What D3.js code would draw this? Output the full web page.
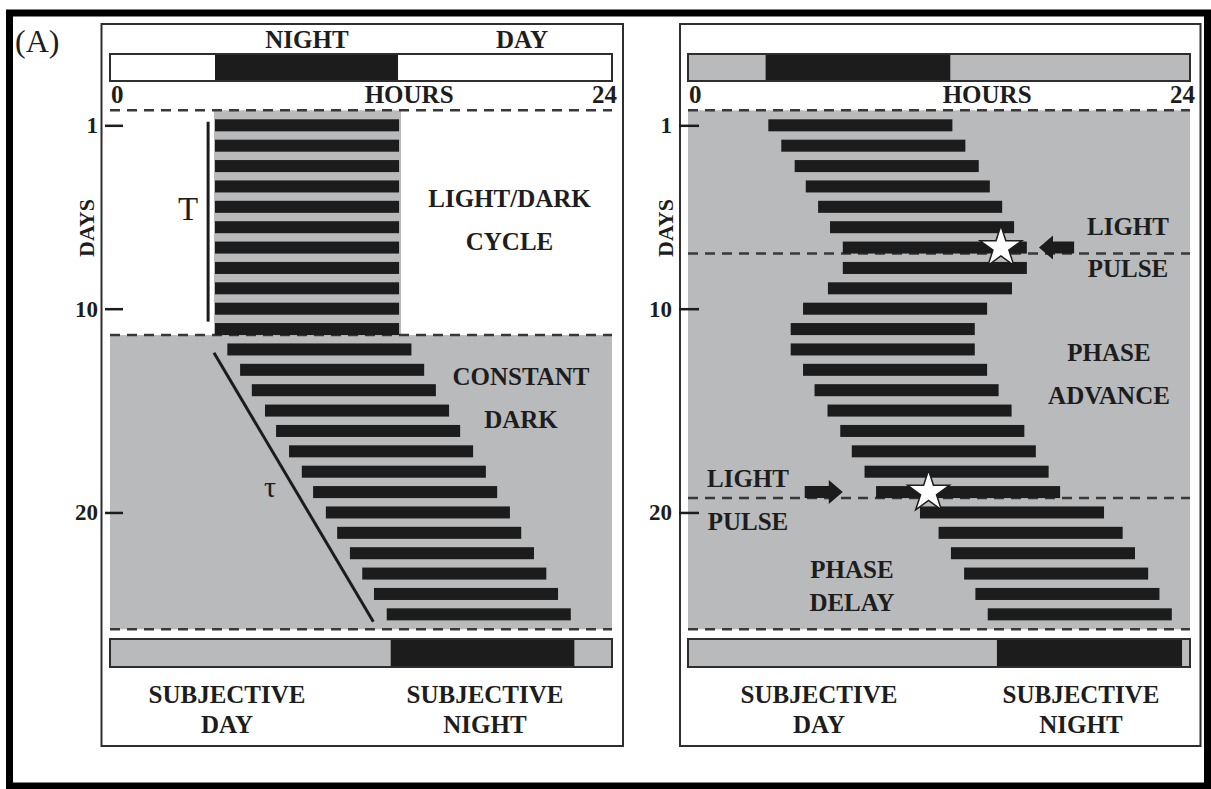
<!DOCTYPE html>
<html>
<head>
<meta charset="utf-8">
<script src="https://cdn.jsdelivr.net/npm/d3@7"></script>
<style>
  html, body { margin: 0; padding: 0; background: #fff; }
  svg { display: block; }
  text { font-family: "Liberation Serif", "DejaVu Serif", serif; fill: #1d1d1d; }
  .b { font-weight: bold; }
</style>
</head>
<body>
<svg id="chart" width="1211" height="789"></svg>
<script>
// ---- data -------------------------------------------------------------
// Activity onset (clock hour) for each day, day 1 at the top.
// Days 1-11: entrained to the light/dark cycle; days 12-25: constant dark.
const leftOnsets = [
  5.02, 5.02, 5.02, 5.02, 5.02, 5.02, 5.02, 5.02, 5.02, 5.02, 5.02,
  5.61, 6.22, 6.78, 7.41, 7.94, 8.56, 9.17, 9.71, 10.32, 10.86, 11.47, 12.06, 12.62, 13.23
];
// Free-running rhythm with two light pulses (advance on day 7, delay on day 19).
const rightOnsets = [
  3.84, 4.46, 5.10, 5.63, 6.22, 6.79, 7.40, 7.40, 6.69, 5.50, 4.91, 4.91, 5.50,
  6.05, 6.67, 7.28, 7.83, 8.44, 8.99, 11.09, 11.98, 12.57, 13.20, 13.74, 14.33
];
const activityLength = 8.8;           // hours of activity per day
const entrainedDays = 11;             // days under the light/dark cycle (left)

// Night / subjective night intervals shown in the header and footer bars (hours)
const leftNight = [5.02, 13.77];
const leftSubjectiveNight = [13.42, 22.20];
const rightNight = [3.71, 12.54];
const rightSubjectiveNight = [14.77, 23.62];

// Light pulses: day index (0-based) and clock hour
const pulses = [
  { day: 6,  hour: 14.96, arrowTip: 16.78, arrowTail: 18.46 },
  { day: 18, hour: 11.50, arrowTip: 7.40,  arrowTail: 5.58 }
];

const dayTicks = [1, 10, 20];
const hourLabels = ["0", "HOURS", "24"];
const hourLabelPos = [0, 14.3, 24];

// ---- layout -----------------------------------------------------------
const svg = d3.select("#chart");
const INK = "#1c1c1c";
const GRAY = "#b9babc";
const LINE = "#2e2e2e";

svg.append("rect").attr("width", 1211).attr("height", 789).attr("fill", "#fff");
// outer heavy frame
svg.append("rect")
  .attr("x", 9.5).attr("y", 13).attr("width", 1198).attr("height", 773)
  .attr("fill", "none").attr("stroke", "#000").attr("stroke-width", 7);

svg.append("text").attr("x", 15).attr("y", 52)
  .style("font-size", "32px").text("(A)");

// row index (0-based, fractional) -> y of the row top
const yRow = d3.scaleLinear().domain([0, 25]).range([119.3, 628.7]);
const barFrac = 0.59;                 // bar thickness as a fraction of a row
// day number (1-based) -> y at the middle of that day's bar
const yDay = d3.scaleLinear().domain([1, 26])
  .range([yRow(barFrac / 2), yRow(25 + barFrac / 2)]);

function dashed(g, x1, x2, y) {
  g.append("line")
    .attr("x1", x1).attr("x2", x2).attr("y1", y).attr("y2", y)
    .attr("stroke", "#383838").attr("stroke-width", 2.5)
    .attr("stroke-dasharray", "10,7");
}

function label(g, x, y, lines, gap, size) {
  lines.forEach((s, i) => {
    g.append("text").attr("class", "b")
      .attr("x", x).attr("y", y + i * gap)
      .attr("text-anchor", "middle")
      .style("font-size", (size || 25) + "px")
      .text(s);
  });
}

function headerBar(g, x, y0, h, fill, night) {
  g.append("rect").attr("x", x(0)).attr("y", y0).attr("width", x(24) - x(0)).attr("height", h)
    .attr("fill", fill).attr("stroke", LINE).attr("stroke-width", 2);
  g.append("rect").attr("x", x(night[0])).attr("y", y0 + 1).attr("width", x(night[1]) - x(night[0]))
    .attr("height", h - 2).attr("fill", INK);
}

function panel(opts) {
  const g = svg.append("g");
  const x = d3.scaleLinear().domain([0, 24]).range(opts.hourRange);

  // panel frame
  g.append("rect").attr("x", opts.frame[0]).attr("y", 24)
    .attr("width", opts.frame[1] - opts.frame[0]).attr("height", 722)
    .attr("fill", "none").attr("stroke", LINE).attr("stroke-width", 2);

  // header bar and hours axis labels
  headerBar(g, x, 54, 27, opts.topFill, opts.night);
  hourLabels.forEach((t, i) => {
    g.append("text").attr("class", "b")
      .attr("x", x(hourLabelPos[i]) + (i === 0 ? 1 : i === 2 ? 5 : 0))
      .attr("y", 103)
      .attr("text-anchor", i === 0 ? "start" : i === 2 ? "end" : "middle")
      .style("font-size", "25px").text(t);
  });

  const yTop = yRow(-0.44), yBot = yRow(25.03);

  // shaded (dark) areas
  opts.shade(g, x, yTop, yBot);

  // dashed separators
  dashed(g, x(0), x(24), yTop);
  dashed(g, x(0), x(24), yBot);
  opts.separators.forEach(r => dashed(g, x(0), x(24), yRow(r)));

  // activity bars
  g.append("g").selectAll("rect").data(opts.onsets).join("rect")
    .attr("x", d => x(d))
    .attr("y", (d, i) => yRow(i))
    .attr("width", d => x(d + activityLength) - x(d))
    .attr("height", yRow(barFrac) - yRow(0))
    .attr("fill", INK);

  // day axis
  const axis = d3.axisLeft(yDay).tickValues(dayTicks).tickSize(opts.tickSize).tickPadding(7);
  const ag = g.append("g").attr("transform", `translate(${opts.axisX},0)`).call(axis);
  ag.select(".domain").remove();
  ag.selectAll(".tick line").attr("stroke", INK).attr("stroke-width", 2.5);
  ag.selectAll(".tick text").attr("class", "b")
    .style("font-size", "23px").style("font-family", "Liberation Serif, serif")
    .attr("fill", "#1d1d1d");

  g.append("text").attr("class", "b")
    .attr("transform", `translate(${opts.daysX},228) rotate(-90)`)
    .attr("text-anchor", "middle").style("font-size", "22px").text("DAYS");

  // footer bar
  headerBar(g, x, 639, 28, GRAY, opts.subjNight);
  label(g, opts.subjDayX, 703, ["SUBJECTIVE", "DAY"], 30);
  label(g, opts.subjNightX, 703, ["SUBJECTIVE", "NIGHT"], 30);

  return { g, x };
}

// ---- left: entrainment then free run in constant dark ------------------
const L = panel({
  frame: [101.5, 623],
  hourRange: [110, 612],
  topFill: "#fff",
  night: leftNight,
  subjNight: leftSubjectiveNight,
  onsets: leftOnsets,
  separators: [entrainedDays - 1 + barFrac],
  axisX: 123, tickSize: 18, daysX: 94,
  subjDayX: 227, subjNightX: 485,
  shade: (g, x, yTop, yBot) => {
    const ySplit = yRow(entrainedDays - 1 + barFrac);
    // constant dark
    g.append("rect").attr("x", x(0)).attr("y", ySplit)
      .attr("width", x(24) - x(0)).attr("height", yBot - ySplit).attr("fill", GRAY);
    // nightly dark strip under the light/dark cycle
    g.append("rect").attr("x", x(leftNight[0]) - 1).attr("y", yTop)
      .attr("width", x(leftNight[1]) - x(leftNight[0]) + 4).attr("height", ySplit - yTop)
      .attr("fill", GRAY);
  }
});

label(L.g, 307, 48, ["NIGHT"], 0);
label(L.g, 522, 48, ["DAY"], 0);

// period markers T (entrained) and tau (free running)
L.g.append("line")
  .attr("x1", L.x(4.69)).attr("x2", L.x(4.69))
  .attr("y1", yRow(0.12)).attr("y2", yRow(9.93))
  .attr("stroke", INK).attr("stroke-width", 3);
L.g.append("line")
  .attr("x1", L.x(4.97)).attr("y1", yRow(11.46))
  .attr("x2", L.x(12.59)).attr("y2", yRow(24.66))
  .attr("stroke", INK).attr("stroke-width", 3);
L.g.append("text").attr("x", 188).attr("y", 220).attr("text-anchor", "middle")
  .style("font-size", "33px").text("T");
L.g.append("text").attr("x", 270).attr("y", 497).attr("text-anchor", "middle")
  .style("font-size", "30px").text("τ");

label(L.g, 509.5, 207, ["LIGHT/DARK", "CYCLE"], 43);
label(L.g, 521, 385, ["CONSTANT", "DARK"], 43);

// ---- right: phase shifts from light pulses -----------------------------
const R = panel({
  frame: [680, 1200.5],
  hourRange: [688, 1190],
  topFill: GRAY,
  night: rightNight,
  subjNight: rightSubjectiveNight,
  onsets: rightOnsets,
  separators: pulses.map(p => p.day + barFrac),
  axisX: 699, tickSize: 20, daysX: 673,
  subjDayX: 819, subjNightX: 1081,
  shade: (g, x, yTop, yBot) => {
    g.append("rect").attr("x", x(0)).attr("y", yTop)
      .attr("width", x(24) - x(0)).attr("height", yBot - yTop).attr("fill", GRAY);
  }
});

// light pulse stars
R.g.append("g").selectAll("path").data(pulses).join("path")
  .attr("d", d3.symbol(d3.symbolStar, 540))
  .attr("transform", d => `translate(${R.x(d.hour)},${yRow(d.day + barFrac / 2)})`)
  .attr("fill", "#fff").attr("stroke", INK).attr("stroke-width", 1.5);

// arrows pointing at the pulses
function arrowPath(tip, tail, cy) {
  const dir = Math.sign(tail - tip);
  const head = 14, hh = 12, sh = 6;
  const p = d3.path();
  p.moveTo(tip, cy);
  p.lineTo(tip + dir * head, cy - hh);
  p.lineTo(tip + dir * head, cy - sh);
  p.lineTo(tail, cy - sh);
  p.lineTo(tail, cy + sh);
  p.lineTo(tip + dir * head, cy + sh);
  p.lineTo(tip + dir * head, cy + hh);
  p.closePath();
  return p.toString();
}
R.g.append("g").selectAll("path").data(pulses).join("path")
  .attr("d", d => arrowPath(R.x(d.arrowTip), R.x(d.arrowTail), yRow(d.day + barFrac / 2)))
  .attr("fill", INK);

label(R.g, 1128, 235, ["LIGHT", "PULSE"], 42);
label(R.g, 1109, 361, ["PHASE", "ADVANCE"], 43);
label(R.g, 748, 487, ["LIGHT", "PULSE"], 43);
label(R.g, 852, 578, ["PHASE", "DELAY"], 33);
</script>
</body>
</html>
